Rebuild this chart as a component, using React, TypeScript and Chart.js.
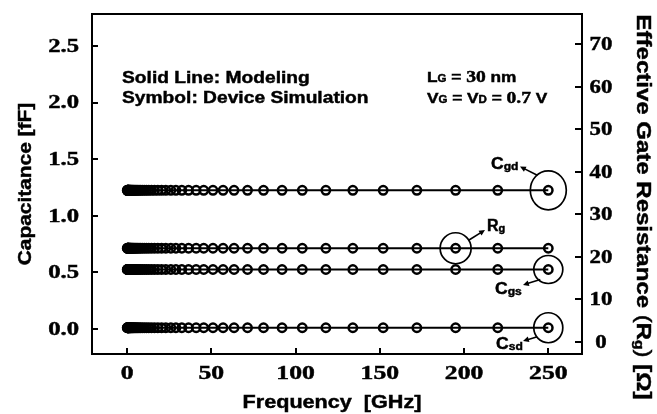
import React, { useEffect, useRef } from "react";
import { Chart, registerables } from "chart.js";

Chart.register(...registerables);

// Frequency sweep points [GHz]
const FREQ = [
  0.1, 0.2, 0.3, 0.4, 0.5, 0.6, 0.7, 0.8, 0.9, 1,
  1.1, 1.3, 1.5, 1.7, 1.9, 2.1, 2.4, 2.7, 3.1, 3.5,
  3.9, 4.4, 5, 5.6, 6.3, 7.1, 8, 9, 10.2, 11.5,
  12.9, 14.5, 16.3, 18.3, 20.5, 23, 26, 29, 32.5, 36.5,
  41, 45.5, 51, 57, 63.5, 71.5, 81, 92, 104, 118,
  134, 152, 172, 195, 220, 250,
];

// Gate-drain capacitance [fF]
const CGD = [
  1.225, 1.225, 1.225, 1.225, 1.225, 1.225, 1.225, 1.225, 1.225, 1.225,
  1.225, 1.225, 1.225, 1.225, 1.225, 1.225, 1.225, 1.225, 1.225, 1.225,
  1.225, 1.225, 1.225, 1.225, 1.225, 1.225, 1.225, 1.225, 1.225, 1.225,
  1.225, 1.225, 1.225, 1.225, 1.225, 1.225, 1.225, 1.225, 1.225, 1.225,
  1.225, 1.225, 1.225, 1.225, 1.225, 1.225, 1.225, 1.225, 1.225, 1.225,
  1.225, 1.225, 1.225, 1.225, 1.225, 1.225,
];

// Gate-source capacitance [fF]
const CGS = [
  0.525, 0.525, 0.525, 0.525, 0.525, 0.525, 0.525, 0.525, 0.525, 0.525,
  0.525, 0.525, 0.525, 0.525, 0.525, 0.525, 0.525, 0.525, 0.525, 0.525,
  0.525, 0.525, 0.525, 0.525, 0.525, 0.525, 0.525, 0.525, 0.525, 0.525,
  0.525, 0.525, 0.525, 0.525, 0.525, 0.525, 0.525, 0.525, 0.525, 0.525,
  0.525, 0.525, 0.525, 0.525, 0.525, 0.525, 0.525, 0.525, 0.525, 0.525,
  0.525, 0.525, 0.525, 0.525, 0.525, 0.525,
];

// Source-drain capacitance [fF]
const CSD = [
  0.01, 0.01, 0.01, 0.01, 0.01, 0.01, 0.01, 0.01, 0.01, 0.01,
  0.01, 0.01, 0.01, 0.01, 0.01, 0.01, 0.01, 0.01, 0.01, 0.01,
  0.01, 0.01, 0.01, 0.01, 0.01, 0.01, 0.01, 0.01, 0.01, 0.01,
  0.01, 0.01, 0.01, 0.01, 0.01, 0.01, 0.01, 0.01, 0.01, 0.01,
  0.01, 0.01, 0.01, 0.01, 0.01, 0.01, 0.01, 0.01, 0.01, 0.01,
  0.01, 0.01, 0.01, 0.01, 0.01, 0.01,
];

// Effective gate resistance [Ohm]
const RG = [
  22, 22, 22, 22, 22, 22, 22, 22, 22, 22,
  22, 22, 22, 22, 22, 22, 22, 22, 22, 22,
  22, 22, 22, 22, 22, 22, 22, 22, 22, 22,
  22, 22, 22, 22, 22, 22, 22, 22, 22, 22,
  22, 22, 22, 22, 22, 22, 22, 22, 22, 22,
  22, 22, 22, 22, 22, 22,
];

const X_TICKS = [0, 50, 100, 150, 200, 250];
const Y_TICKS = [0, 0.5, 1.0, 1.5, 2.0, 2.5];
const R_TICKS = [0, 10, 20, 30, 40, 50, 60, 70];

const SANS = '"Liberation Sans", Arial, sans-serif';
const SERIF = '"Liberation Serif", "Times New Roman", serif';

type Piece = { t: string; font: string; dy?: number };

function pts(values: number[]) {
  return FREQ.map((f, i) => ({ x: f, y: values[i] }));
}

// fill text with a hairline outline so the glyphs read a little heavier
function ink(ctx: CanvasRenderingContext2D, s: string, x: number, y: number) {
  ctx.fillText(s, x, y);
  ctx.lineWidth = 0.45;
  ctx.strokeStyle = "#000";
  ctx.strokeText(s, x, y);
}

function drawText(
  ctx: CanvasRenderingContext2D,
  s: string,
  x: number,
  y: number,
  font: string,
  sx: number,
  align: CanvasTextAlign = "left",
  baseline: CanvasTextBaseline = "alphabetic"
) {
  ctx.save();
  ctx.font = font;
  ctx.textAlign = align;
  ctx.textBaseline = baseline;
  ctx.translate(x, y);
  ctx.scale(sx, 1);
  ink(ctx, s, 0, 0);
  ctx.restore();
}

// Draws a run of differently styled pieces centred on (cx, cy), optionally rotated
function drawRun(
  ctx: CanvasRenderingContext2D,
  pieces: Piece[],
  cx: number,
  cy: number,
  rot: number,
  sx: number
) {
  ctx.save();
  ctx.translate(cx, cy);
  ctx.rotate(rot);
  ctx.scale(sx, 1);
  ctx.textBaseline = "middle";
  ctx.textAlign = "left";
  let total = 0;
  for (const p of pieces) {
    ctx.font = p.font;
    total += ctx.measureText(p.t).width;
  }
  let x = -total / 2;
  for (const p of pieces) {
    ctx.font = p.font;
    ink(ctx, p.t, x, p.dy || 0);
    x += ctx.measureText(p.t).width;
  }
  ctx.restore();
}

// Draws pieces left to right from (x, y) on a shared baseline
function drawPieces(
  ctx: CanvasRenderingContext2D,
  pieces: Piece[],
  x: number,
  y: number,
  sx: number
) {
  ctx.save();
  ctx.translate(x, y);
  ctx.scale(sx, 1);
  ctx.textBaseline = "alphabetic";
  ctx.textAlign = "left";
  let cx = 0;
  for (const p of pieces) {
    ctx.font = p.font;
    ink(ctx, p.t, cx, p.dy || 0);
    cx += ctx.measureText(p.t).width;
  }
  ctx.restore();
}

function arrow(
  ctx: CanvasRenderingContext2D,
  x1: number,
  y1: number,
  x2: number,
  y2: number
) {
  const ang = Math.atan2(y2 - y1, x2 - x1);
  const hl = 6.5;
  ctx.save();
  ctx.lineWidth = 1.6;
  ctx.strokeStyle = "#000";
  ctx.fillStyle = "#000";
  ctx.beginPath();
  ctx.moveTo(x1, y1);
  ctx.lineTo(x2 - Math.cos(ang) * 3, y2 - Math.sin(ang) * 3);
  ctx.stroke();
  ctx.beginPath();
  ctx.moveTo(x2, y2);
  ctx.lineTo(x2 - hl * Math.cos(ang - 0.45), y2 - hl * Math.sin(ang - 0.45));
  ctx.lineTo(x2 - hl * Math.cos(ang + 0.45), y2 - hl * Math.sin(ang + 0.45));
  ctx.closePath();
  ctx.fill();
  ctx.restore();
}

const framePlugin = {
  id: "frameAndNotes",
  afterDraw(chart: any) {
    const { ctx, chartArea: a, scales } = chart;
    const sx = scales.x;
    const sy = scales.y;
    const sr = scales.yR;
    ctx.save();
    ctx.strokeStyle = "#000";
    ctx.fillStyle = "#000";
    ctx.lineWidth = 2;
    ctx.strokeRect(a.left, a.top, a.right - a.left, a.bottom - a.top);

    // inward tick marks
    ctx.beginPath();
    for (const v of X_TICKS) {
      const x = Math.round(sx.getPixelForValue(v));
      ctx.moveTo(x, a.bottom);
      ctx.lineTo(x, a.bottom - 6);
    }
    for (const v of Y_TICKS) {
      const y = Math.round(sy.getPixelForValue(v));
      ctx.moveTo(a.left, y);
      ctx.lineTo(a.left + 6, y);
    }
    for (const v of R_TICKS) {
      const y = Math.round(sr.getPixelForValue(v));
      ctx.moveTo(a.right, y);
      ctx.lineTo(a.right - 7, y);
    }
    ctx.stroke();

    // tick labels
    const tickFont = `bold 19px ${SERIF}`;
    for (const v of X_TICKS) {
      drawText(ctx, String(v), sx.getPixelForValue(v), 374, tickFont, 1.35, "center", "middle");
    }
    for (const v of Y_TICKS) {
      drawText(ctx, v.toFixed(1), 79, sy.getPixelForValue(v) + 1, tickFont, 1.3, "right", "middle");
    }
    for (const v of R_TICKS) {
      drawText(ctx, String(v), 601, sr.getPixelForValue(v) + 1, tickFont, 1.2, "center", "middle");
    }

    // axis titles
    drawText(ctx, "Frequency  [GHz]", 332, 408, `bold 18px ${SANS}`, 1.2, "center", "alphabetic");
    drawRun(ctx, [{ t: "Capacitance [fF]", font: `bold 18px ${SANS}` }], 26, 184, -Math.PI / 2, 1.16);
    drawRun(
      ctx,
      [
        { t: "Effective Gate Resistance ", font: `bold 20px ${SANS}` },
        { t: "(", font: `20px ${SANS}` },
        { t: "R", font: `bold 20px ${SANS}` },
        { t: "g", font: `bold 13px ${SANS}`, dy: 4 },
        { t: ")", font: `20px ${SANS}` },
        { t: " [Ω]", font: `bold 20px ${SANS}` },
      ],
      643,
      207,
      Math.PI / 2,
      1.2
    );

    // legend-style notes
    drawText(ctx, "Solid Line: Modeling", 122, 83, `bold 17px ${SANS}`, 1.13);
    drawText(ctx, "Symbol: Device Simulation", 122, 103, `bold 17px ${SANS}`, 1.13);

    const s15 = `bold 15px ${SANS}`;
    const sub = `bold 10px ${SANS}`;
    const ser = `bold 17px ${SERIF}`;
    drawPieces(
      ctx,
      [
        { t: "L", font: s15 },
        { t: "G", font: sub },
        { t: " = ", font: s15 },
        { t: "30", font: ser },
        { t: " nm", font: s15 },
      ],
      427,
      82,
      1.15
    );
    drawPieces(
      ctx,
      [
        { t: "V", font: s15 },
        { t: "G", font: sub },
        { t: " = ", font: s15 },
        { t: "V", font: s15 },
        { t: "D", font: sub },
        { t: " = ", font: s15 },
        { t: "0.7", font: ser },
        { t: " V", font: s15 },
      ],
      427,
      103,
      1.15
    );

    // highlight circles around selected points
    const last = FREQ.length - 1;
    const iRg = FREQ.indexOf(195);
    const ring = (x: number, y: number, rx: number, ry: number) => {
      ctx.save();
      ctx.lineWidth = 1.7;
      ctx.beginPath();
      ctx.ellipse(x, y, rx, ry, 0, 0, Math.PI * 2);
      ctx.stroke();
      ctx.restore();
    };
    const xl = sx.getPixelForValue(FREQ[last]);
    const yCgd = sy.getPixelForValue(CGD[last]);
    const yCgs = sy.getPixelForValue(CGS[last]);
    const yCsd = sy.getPixelForValue(CSD[last]);
    const xRg = sx.getPixelForValue(FREQ[iRg]);
    const yRg = sr.getPixelForValue(RG[iRg]);
    ring(xl, yCgd, 18, 19.5);
    ring(xRg, yRg, 15.5, 15.5);
    ring(xl, yCgs, 14.5, 14);
    ring(xl, yCsd, 14.5, 15);

    arrow(ctx, xl - 11, yCgd - 15, 520, 166.5);
    arrow(ctx, xRg + 13, yRg - 8, 485, 230);
    arrow(ctx, xl - 8, yCgs + 10, 523, 285);
    arrow(ctx, xl - 11, yCsd + 9, 523, 341);

    const cFont = `bold 16px ${SANS}`;
    const cSub = `bold 11px ${SANS}`;
    drawPieces(ctx, [{ t: "C", font: cFont }, { t: "gd", font: cSub, dy: 1 }], 491, 168.5, 1.1);
    drawPieces(ctx, [{ t: "R", font: cFont }, { t: "g", font: cSub, dy: 1 }], 487, 231, 1.0);
    drawPieces(ctx, [{ t: "C", font: cFont }, { t: "gs", font: cSub, dy: 1 }], 495, 293.5, 1.1);
    drawPieces(ctx, [{ t: "C", font: cFont }, { t: "sd", font: cSub, dy: 1 }], 496, 348.5, 1.1);

    ctx.restore();
  },
};

function modelLine(values: number[], axis: string) {
  return {
    data: pts(values),
    yAxisID: axis,
    borderColor: "#000",
    borderWidth: 2,
    pointRadius: 0,
    showLine: true,
    fill: false,
    tension: 0,
  };
}

function simPoints(values: number[], axis: string) {
  return {
    data: pts(values),
    yAxisID: axis,
    showLine: false,
    pointRadius: 4.2,
    pointBorderWidth: 2.5,
    pointBorderColor: "#000",
    pointBackgroundColor: "rgba(0,0,0,0)",
    pointStyle: "circle",
  };
}

export default function App() {
  const ref = useRef<HTMLCanvasElement>(null);

  useEffect(() => {
    document.body.style.margin = "0";
    const canvas = ref.current;
    if (!canvas) return;
    const chart = new Chart(canvas, {
      type: "line",
      data: {
        datasets: [
          modelLine(CGD, "y"),
          modelLine(RG, "yR"),
          modelLine(CGS, "y"),
          modelLine(CSD, "y"),
          simPoints(CGD, "y"),
          simPoints(RG, "yR"),
          simPoints(CGS, "y"),
          simPoints(CSD, "y"),
        ] as any,
      },
      options: {
        animation: false,
        responsive: false,
        devicePixelRatio: 1,
        events: [],
        layout: { padding: { left: 92, right: 75, top: 14, bottom: 60 } },
        plugins: {
          legend: { display: false },
          tooltip: { enabled: false },
        },
        scales: {
          x: { type: "linear", min: -20.8, max: 270, display: false },
          y: { type: "linear", min: -0.222, max: 2.783, display: false },
          yR: { type: "linear", position: "right", min: -2.86, max: 77.07, display: false },
        },
      } as any,
      plugins: [framePlugin],
    });
    return () => chart.destroy();
  }, []);

  return (
    <div style={{ position: "absolute", left: 0, top: 0, width: 657, height: 414, background: "#fff" }}>
      <canvas ref={ref} width={657} height={414} style={{ display: "block" }} />
    </div>
  );
}
